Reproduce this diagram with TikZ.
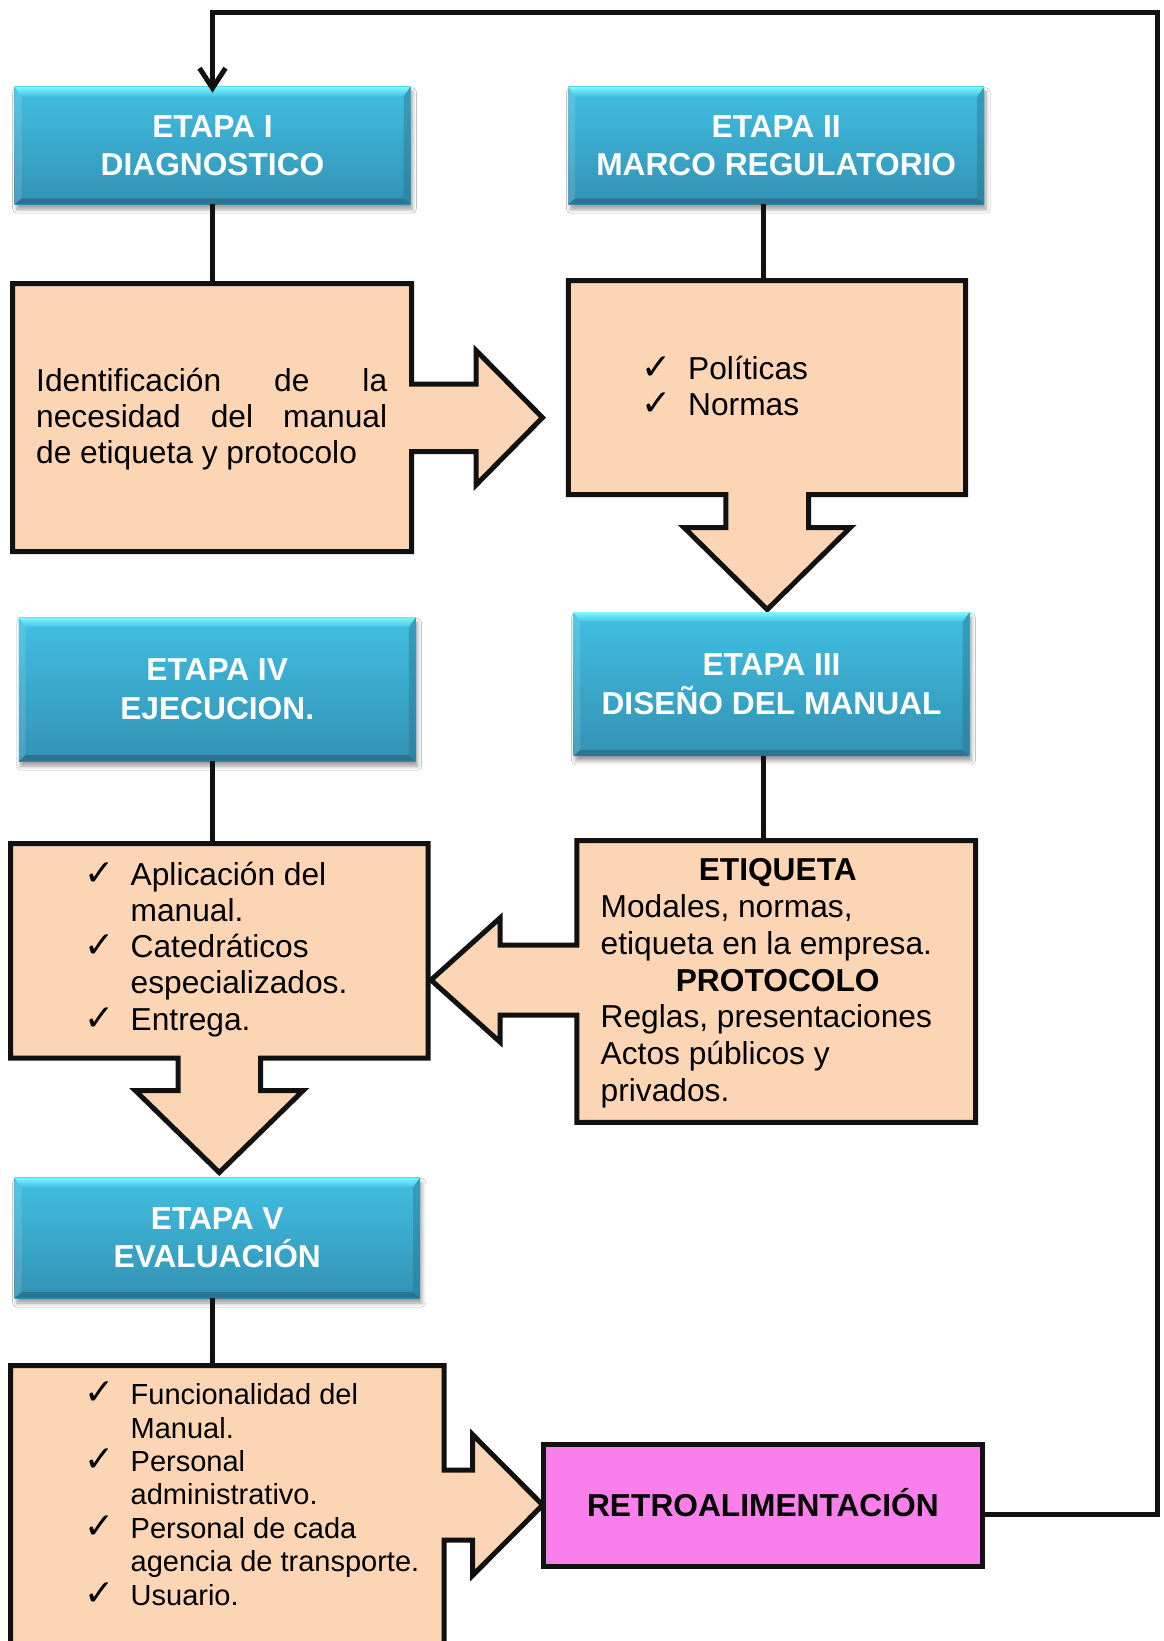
\documentclass[tikz,border=0pt]{standalone}
\usepackage{fontspec}
\setmainfont{Liberation Sans}
\newfontfamily\chkfont{DejaVu Sans}
\usetikzlibrary{shadows.blur,arrows.meta,calc}

\definecolor{orangefill}{HTML}{FBD5B4}
\definecolor{pinkfill}{HTML}{F97FEB}
\definecolor{bluetop}{HTML}{40BFE2}
\definecolor{bluebot}{HTML}{3392B4}
\definecolor{bevellight}{HTML}{80F6FF}
\definecolor{beveldark}{HTML}{2B7590}
\definecolor{lineblack}{HTML}{111111}

\newcommand\chk{\makebox[46.5pt][l]{\smash{\chkfont\fontsize{36}{36}\selectfont ✓}}}
\newcommand\chkind{\hspace*{46.5pt}}
\newcommand\bevelbox[1]{%
  \shade[top color=bevellight, bottom color=bluetop] (#1.north west) -- (#1.north east) -- ([shift={(-7,10)}]#1.north east) -- ([shift={(7,10)}]#1.north west) -- cycle;
  \fill[beveldark] (#1.south west) -- (#1.south east) -- ([shift={(-7,-6)}]#1.south east) -- ([shift={(7,-6)}]#1.south west) -- cycle;
  \fill[beveldark, opacity=0.45] (#1.north east) -- (#1.south east) -- ([shift={(-7,-6)}]#1.south east) -- ([shift={(-7,10)}]#1.north east) -- cycle;
  \fill[white, opacity=0.12] (#1.north west) -- (#1.south west) -- ([shift={(7,-6)}]#1.south west) -- ([shift={(7,10)}]#1.north west) -- cycle;
}

\tikzset{
  etapa/.style={rectangle, inner sep=0pt, top color=bluetop, bottom color=bluebot,
    text=white, font=\fontsize{31.7}{38.5}\selectfont\bfseries, align=center,
    blur shadow={shadow xshift=2pt, shadow yshift=-5pt, shadow blur radius=4pt, shadow opacity=40}},
  conn/.style={draw=lineblack, line width=5pt},
  callout/.style={fill=orangefill, draw=lineblack, line width=5pt, line join=miter},
  boxarea/.style={rectangle, inner sep=0pt, draw=none},
  body/.style={anchor=base west, inner sep=0pt, text=black},
}

\begin{document}
\begin{tikzpicture}[x=1pt, y=-1pt]
\useasboundingbox (0,0) rectangle (1164,1641);
\clip (0,0) rectangle (1164,1641);
\fill[white] (0,0) rectangle (1164,1641);

% orange callout shapes
\path[callout] (12.6,283.7) -- (411.5,283.7) -- (411.5,384) -- (476,384) -- (476,350.4)
  -- (542.5,417.6) -- (476,485) -- (476,451.5) -- (411.5,451.5) -- (411.5,551.5) -- (12.6,551.5) -- cycle;
\path[callout] (568.4,280.5) -- (965.5,280.5) -- (965.5,494.5) -- (808.6,494.5) -- (808.6,527.5)
  -- (850.4,527.5) -- (767.2,609.5) -- (684,527.5) -- (725.8,527.5) -- (725.8,494.5) -- (568.4,494.5) -- cycle;
\path[callout] (576.8,840.5) -- (975.6,840.5) -- (975.6,1122.3) -- (576.8,1122.3) -- (576.8,1015)
  -- (500,1015) -- (500,1042) -- (431,980) -- (500,918) -- (500,945) -- (576.8,945) -- cycle;
\path[callout] (10.5,843.5) -- (428,843.5) -- (428,1058) -- (260.5,1058) -- (260.5,1090.7)
  -- (303,1090.7) -- (219.3,1172.5) -- (135.5,1090.7) -- (178,1090.7) -- (178,1058) -- (10.5,1058) -- cycle;
\path[callout] (10.5,1365.5) -- (444,1365.5) -- (444,1470) -- (472.6,1470) -- (472.6,1434.6)
  -- (542.7,1505) -- (472.6,1575.4) -- (472.6,1540) -- (444,1540) -- (444,1670) -- (10.5,1670) -- cycle;

% rectangle parts of the callouts, for connectors
\node[boxarea, minimum width=398.9pt, minimum height=267.8pt] (o1) at (212.05,417.6) {};
\node[boxarea, minimum width=397.1pt, minimum height=214pt] (o2) at (766.95,387.5) {};
\node[boxarea, minimum width=398.8pt, minimum height=281.8pt] (e3) at (776.2,981.4) {};
\node[boxarea, minimum width=417.5pt, minimum height=214.5pt] (o4) at (219.25,950.75) {};
\node[boxarea, minimum width=433.5pt, minimum height=294.5pt] (o5) at (227.25,1512.75) {};

% stage boxes
\node[etapa, minimum width=395.6pt, minimum height=117.2pt] (b1) at (212.5,145.5) {ETAPA I\\DIAGNOSTICO};
\bevelbox{b1}
\node[etapa, minimum width=415.6pt, minimum height=117.2pt] (b2) at (776.2,145.5) {ETAPA II\\MARCO REGULATORIO};
\bevelbox{b2}
\node[etapa, minimum width=395.7pt, minimum height=143.4pt] (b3) at (771.5,684.1) {ETAPA III\\DISEÑO DEL MANUAL};
\bevelbox{b3}
\node[etapa, minimum width=396.8pt, minimum height=143.4pt] (b4) at (217.2,689.3) {ETAPA IV\\EJECUCION.};
\bevelbox{b4}
\node[etapa, minimum width=405.1pt, minimum height=120.3pt] (b5) at (217.25,1237.85) {ETAPA V\\EVALUACIÓN};
\bevelbox{b5}

% texts
\node[body, font=\fontsize{31.7}{35.65}\selectfont] (t1) at (36,391.7)
  {\begin{tabular}[t]{@{}l@{}}\makebox[351pt][s]{Identificación de la}\\ \makebox[351pt][s]{necesidad del manual}\\ de etiqueta y protocolo\end{tabular}};
\node[body, font=\fontsize{31.7}{36.9}\selectfont] (t2) at (641.5,379)
  {\begin{tabular}[t]{@{}l@{}}\chk Políticas\\ \chk Normas\end{tabular}};
\node[body, font=\fontsize{31.7}{36.75}\selectfont] (t3) at (600.5,880.9)
  {\begin{tabular}[t]{@{}l@{}}\makebox[354pt]{\bfseries ETIQUETA}\\ Modales, normas,\\ etiqueta en la empresa.\\ \makebox[354pt]{\bfseries PROTOCOLO}\\ Reglas, presentaciones\\ Actos públicos y\\ privados.\end{tabular}};
\node[body, font=\fontsize{31.7}{36.1}\selectfont] (t4) at (84,885.6)
  {\begin{tabular}[t]{@{}l@{}}\chk Aplicación del\\ \chkind manual.\\ \chk Catedráticos\\ \chkind especializados.\\ \chk Entrega.\end{tabular}};
\node[body, font=\fontsize{29}{33.4}\selectfont] (t5) at (84,1404.7)
  {\begin{tabular}[t]{@{}l@{}}\chk Funcionalidad del\\ \chkind Manual.\\ \chk Personal\\ \chkind administrativo.\\ \chk Personal de cada\\ \chkind agencia de transporte.\\ \chk Usuario.\end{tabular}};

% feedback box
\node[rectangle, draw=lineblack, line width=5pt, fill=pinkfill, inner sep=0pt,
  minimum width=439.2pt, minimum height=121.9pt, text=black,
  font=\fontsize{31.7}{38}\selectfont\bfseries, text height=22.7pt, text depth=0pt]
  (rt) at (762.9,1505.55) {RETROALIMENTACIÓN};

% connectors
\draw[conn] (b1.south) -- (b1.south |- o1.north);
\draw[conn] ([xshift=-13pt]b2.south) -- ([xshift=-13pt]b2.south |- o2.north);
\draw[conn] ([xshift=-8pt]b3.south) -- ([xshift=-8pt]b3.south |- e3.north);
\draw[conn] ([xshift=-4.5pt]b4.south) -- ([xshift=-4.5pt]b4.south |- o4.north);
\draw[conn] ([xshift=-4.5pt]b5.south) -- ([xshift=-4.5pt]b5.south |- o5.north);

\coordinate (fbcorner) at (1157,12.6);
\draw[conn, -{Straight Barb[length=20pt, width=26pt]}] ([yshift=-8.5pt]rt.east) -| (fbcorner) -| ([yshift=-6pt]b1.north);
\end{tikzpicture}
\end{document}
